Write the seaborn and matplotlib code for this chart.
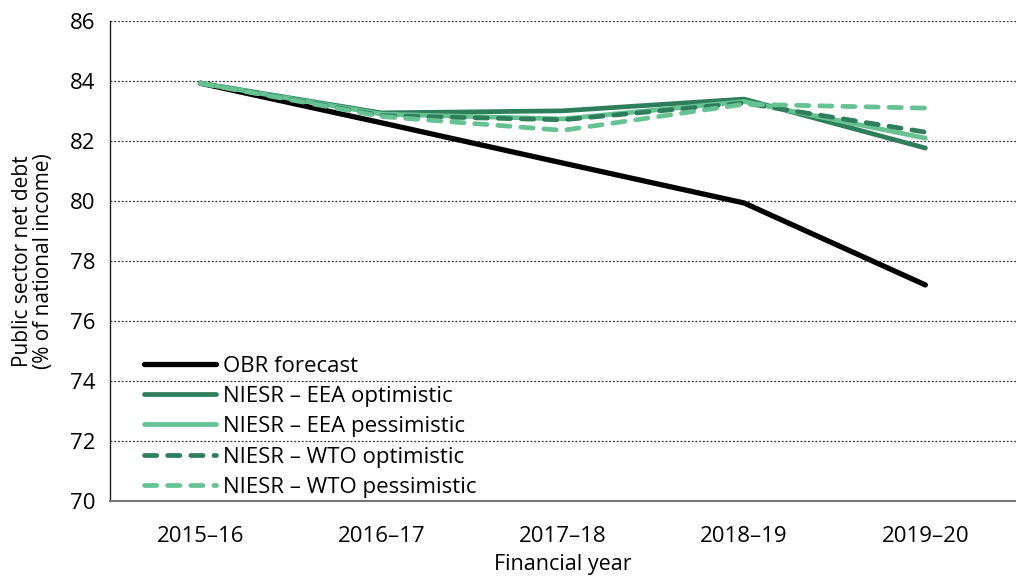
import matplotlib
matplotlib.use("Agg")
import matplotlib.pyplot as plt
import seaborn as sns
import pandas as pd

years = ["2015–16", "2016–17", "2017–18", "2018–19", "2019–20"]
obr = [83.92, 82.60, 81.26, 79.93, 77.20]
eea_opt = [83.92, 82.93, 83.00, 83.39, 81.76]
eea_pess = [83.92, 82.89, 82.73, 83.31, 82.09]
wto_opt = [83.92, 82.84, 82.70, 83.26, 82.29]
wto_pess = [83.92, 82.81, 82.35, 83.22, 83.09]

series = [
    ("OBR forecast", obr, "#000000", "-"),
    ("NIESR – EEA optimistic", eea_opt, "#2e7d5b", "-"),
    ("NIESR – EEA pessimistic", eea_pess, "#66c193", "-"),
    ("NIESR – WTO optimistic", wto_opt, "#2e7d5b", "--"),
    ("NIESR – WTO pessimistic", wto_pess, "#66c193", "--"),
]

sns.set_style("white")
plt.rcParams['font.family'] = ['Open Sans', 'DejaVu Sans']
plt.rcParams['text.color'] = 'black'
plt.rcParams['axes.labelcolor'] = 'black'
plt.rcParams['xtick.color'] = 'black'
plt.rcParams['ytick.color'] = 'black'

fig = plt.figure(figsize=(10.16, 5.76), dpi=100)
ax = fig.add_axes([0.108, 0.130, 0.892, 0.834])

xs = list(range(len(years)))
for name, vals, col, ls in series:
    df = pd.DataFrame({"x": xs, "y": vals})
    lw = 3.8 if name.startswith("OBR") else 3.4
    sns.lineplot(data=df, x="x", y="y", ax=ax, color=col, linewidth=lw,
                 label=name, legend=False)
    l = ax.lines[-1]
    l.set_solid_capstyle("round")
    l.set_solid_joinstyle("round")
    if ls == "--":
        l.set_dashes((2.6, 2.3))
        l.set_dash_capstyle("round")

ax.set_ylim(70, 86)
ax.set_yticks(range(70, 87, 2))
ax.set_xlim(-0.5, 4.45)
ax.set_xticks(xs)
ax.set_xticklabels(years)
ax.set_xticks([i - 0.5 for i in range(6)], minor=True)
ax.tick_params(axis="x", which="major", length=0, pad=18, labelsize=16)
ax.tick_params(axis="x", which="minor", length=6, width=1, color="#555555", direction="out")
ax.tick_params(axis="y", length=6, width=1, color="#333333", direction="out", labelsize=16, pad=4)
ax.yaxis.grid(True, linestyle=(0, (1.5, 1.5)), color="#333333", linewidth=0.9)
ax.xaxis.grid(False)
ax.set_axisbelow(True)
for s in ["top", "right"]:
    ax.spines[s].set_visible(False)
ax.spines["left"].set_color("#222222")
ax.spines["left"].set_linewidth(1)
ax.spines["bottom"].set_color("#777777")
ax.spines["bottom"].set_linewidth(1.5)

ax.set_xlabel("Financial year", fontsize=15.5, labelpad=5)
ax.set_ylabel("Public sector net debt\n(% of national income)", fontsize=15,
              linespacing=0.95)
ax.yaxis.set_label_coords(-0.062, 0.5)

handles = ax.lines[:5]
leg = ax.legend(handles, [s[0] for s in series], loc="lower left", frameon=False,
                fontsize=16, handlelength=3.25, handletextpad=0.3, labelspacing=0.42,
                bbox_to_anchor=(0.016, -0.035))

fig.savefig("out.png", dpi=100)
